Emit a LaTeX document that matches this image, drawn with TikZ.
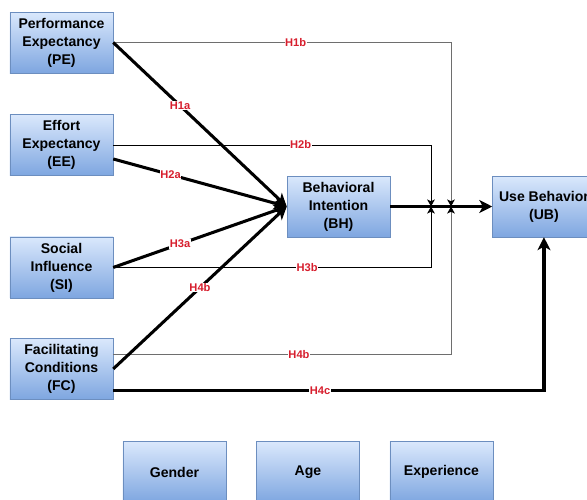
\documentclass[tikz,border=0pt]{standalone}
\usepackage{fontspec}
\setmainfont{Liberation Sans}
\usetikzlibrary{positioning,calc,arrows.meta}
\definecolor{boxtop}{RGB}{218,232,252}
\definecolor{boxbot}{RGB}{126,166,224}
\definecolor{boxline}{RGB}{108,142,191}
\definecolor{hypred}{RGB}{215,30,45}
\definecolor{midgray}{RGB}{110,110,110}
\tikzset{
    construct/.style={
    draw=boxline,
    top color=boxtop,
    bottom color=boxbot,
    minimum width=3.09cm,
    minimum height=1.83cm,
    align=center,
    font=\fontsize{12}{15.3}\selectfont\bfseries
  },
    hyp/.style={
    font=\fontsize{9.5}{10}\selectfont\bfseries,
    text=hypred,
    fill=white,
    inner sep=0.5pt
  },
    mainpath/.style={
    line width=2.6pt,
    -{Stealth[length=11pt,width=11pt,inset=3pt]}
  },
    modpath/.style={
    line width=0.8pt,
    -{Stealth[length=6pt,width=6.5pt,inset=1.5pt,color=black]}
  }
}

\begin{document}
\begin{tikzpicture}[x=0.03cm, y=-0.03cm]
  \useasboundingbox (0,0) rectangle (587,499);

  \node[construct] (pe) at (61.5,42.5) {Performance\\Expectancy\\(PE)};
  \node[construct] (ee) [below=1.23cm of pe] {Effort\\Expectancy\\(EE)};
  \node[construct] (si) [below=1.83cm of ee] {Social\\Influence\\(SI)};
  \node[construct] (fc) [below=1.2cm of si] {Facilitating\\Conditions\\(FC)};
  \node[construct] (bh) at (338.5,206.5) {Behavioral\\Intention\\(BH)};
  \node[construct] (ub) [right=3.06cm of bh] {Use Behavior\\(UB)};
  \node[construct] (gender) at (174.5,472) {Gender};
  \node[construct] (age) [right=0.9cm of gender] {Age};
  \node[construct] (exp) [right=0.9cm of age] {Experience};

  \coordinate (j_a) at (431,206.5);
  \coordinate (j_b) at (451,206.5);

  % intention to use behavior first, moderators over it
  \draw[mainpath] (bh) -- (ub);

  \draw[modpath, draw=midgray] (pe.east) -| node[hyp,pos=0.27] {H1b} (j_b);
  \draw[modpath] (ee.east) -| node[hyp,pos=0.295] {H2b} (j_a);
  \draw[modpath] (si.east) -| node[hyp,pos=0.305] {H3b} (j_a);
  \draw[modpath, draw=midgray] ($(fc.east)+(0,-14)$) -| node[hyp,pos=0.275] {H4b} (j_b);

  \draw[mainpath] (pe.east) -- node[hyp,pos=0.385] {H1a} (bh.west);
  \draw[mainpath] ($(ee.east)+(0,14)$) -- node[hyp,pos=0.33] {H2a} (bh.west);
  \draw[mainpath] (si.east) -- node[hyp,pos=0.385] {H3a} (bh.west);
  \draw[mainpath] (fc.east) -- node[hyp,pos=0.5] {H4b} (bh.west);
  \draw[mainpath] ($(fc.east)+(0,22)$) -| node[hyp,pos=0.24] {H4c} (ub.south);
\end{tikzpicture}
\end{document}
